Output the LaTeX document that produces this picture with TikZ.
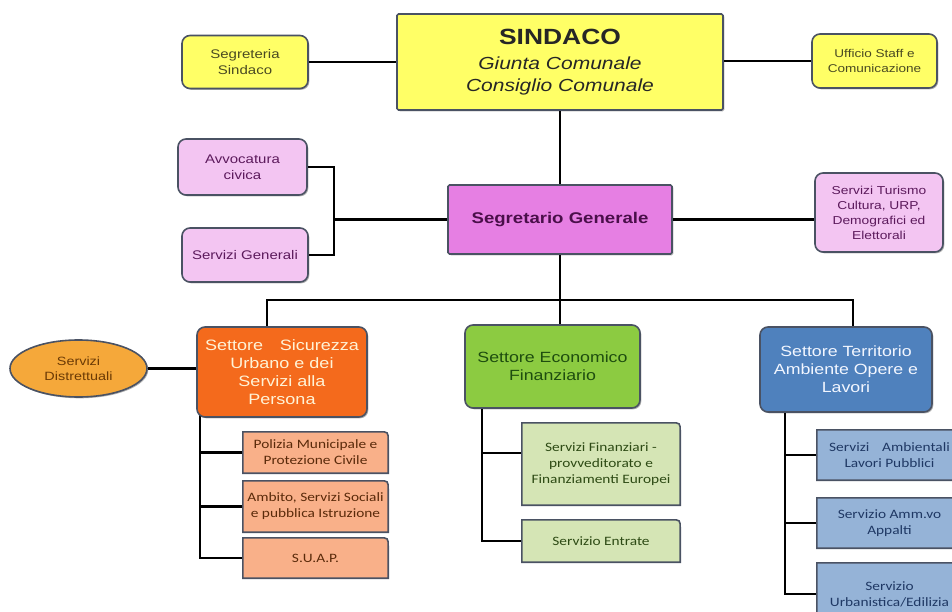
\documentclass[tikz,border=0pt]{standalone}
\usepackage{fontspec}
\setmainfont{Liberation Sans}
\newfontfamily\hvx[FakeStretch=1.2]{Liberation Sans}
\newfontfamily\cbx[FakeStretch=1.2]{Carlito}
\usetikzlibrary{backgrounds,shadows,shapes.geometric}

\definecolor{bordc}{HTML}{4A5263}
\definecolor{yel}{HTML}{FFFF66}
\definecolor{yeltxt}{HTML}{4A4A22}
\definecolor{pinkc}{HTML}{F3C5F2}
\definecolor{pinktxt}{HTML}{5C1A5C}
\definecolor{segc}{HTML}{E67FE3}
\definecolor{segtxt}{HTML}{4A0F4A}
\definecolor{orc}{HTML}{F46A1C}
\definecolor{ortxt}{HTML}{FFF3D6}
\definecolor{ellc}{HTML}{F5A83A}
\definecolor{elltxt}{HTML}{6B3A05}
\definecolor{grc}{HTML}{8CCB41}
\definecolor{grtxt}{HTML}{1E4D0F}
\definecolor{blc}{HTML}{4F81BD}
\definecolor{bltxt}{HTML}{F2F6FF}
\definecolor{osub}{HTML}{F9B089}
\definecolor{osubtxt}{HTML}{5A2A0A}
\definecolor{gsub}{HTML}{D5E5B5}
\definecolor{gsubtxt}{HTML}{2D4A14}
\definecolor{bsub}{HTML}{95B3D7}
\definecolor{bsubtxt}{HTML}{1F3864}

% sub-office box: square corners except a rounded top-right one
\newcommand\drawtab[2]{%
  \draw[tabline,fill=#2] (#1.south west) -- (#1.north west)
    -- ([xshift=-9pt]#1.north east) .. controls (#1.north east) .. ([yshift=-9pt]#1.north east)
    -- (#1.south east) -- cycle;}

\begin{document}
\begin{tikzpicture}[x=1pt,y=-1pt,
  box/.style={draw=bordc,line width=1.6pt,align=center,inner sep=0pt,
    drop shadow={shadow xshift=1.3pt,shadow yshift=-1.3pt,opacity=.3,fill=black}},
  rbox/.style={box,rounded corners=8pt},
  sqbox/.style={box,rounded corners=1.5pt},
  small/.style={font=\hvx\fontsize{12.5}{16}\selectfont},
  sector/.style={rbox,font=\hvx\fontsize{14.8}{18}\selectfont},
  subn/.style={align=center,inner sep=0pt,font=\cbx\fontsize{12.8}{16}\selectfont},
  tabline/.style={draw=bordc,line width=1.6pt},
  conn/.style={line width=2.2pt,black}]
\useasboundingbox (0,0) rectangle (952,612);

% top level
\node[sqbox,fill=yel,minimum width=326pt,minimum height=96pt,
  font=\hvx\fontsize{17.5}{21.5}\selectfont\itshape,text=black!85] (sindaco) at (560,62)
  {{\fontsize{22}{22}\selectfont\bfseries\upshape SINDACO}\\[4pt]Giunta Comunale\\Consiglio Comunale};
\node[rbox,small,fill=yel,text=yeltxt,minimum width=126pt,minimum height=53pt] (segsind) at (245,62) {Segreteria\\Sindaco};
\node[rbox,fill=yel,text=yeltxt,minimum width=125pt,minimum height=54pt,
  font=\hvx\fontsize{11.3}{14.5}\selectfont] (ufficio) at (874.5,61) {Ufficio Staff e\\Comunicazione};

% secretary general and staff
\node[sqbox,fill=segc,text=segtxt,minimum width=224pt,minimum height=69pt,
  font=\hvx\bfseries\fontsize{15.5}{18}\selectfont] (segr) at (560,219.5) {Segretario Generale};
\node[rbox,small,fill=pinkc,text=pinktxt,minimum width=129pt,minimum height=56pt] (avv) at (242.5,167) {Avvocatura\\civica};
\node[rbox,small,fill=pinkc,text=pinktxt,minimum width=126pt,minimum height=54pt] (sgen) at (245,255) {Servizi Generali};
\node[rbox,fill=pinkc,text=pinktxt,minimum width=128pt,minimum height=79pt,
  font=\hvx\fontsize{11.5}{15}\selectfont] (turismo) at (879,212.5)
  {Servizi Turismo\\Cultura, URP,\\Demografici ed\\Elettorali};

% sectors
\node[sector,fill=orc,text=ortxt,minimum width=170pt,minimum height=90pt,
  font=\hvx\fontsize{15}{18}\selectfont] (osec) at (282,372)
  {\makebox[154pt][s]{Settore Sicurezza}\\Urbano e dei\\Servizi alla\\Persona};
\node[sector,fill=grc,text=grtxt,minimum width=175pt,minimum height=83pt] (gsec) at (552.5,366.5)
  {Settore Economico\\Finanziario};
\node[sector,fill=blc,text=bltxt,minimum width=172pt,minimum height=85pt] (bsec) at (846,369.5)
  {Settore Territorio\\Ambiente Opere e\\Lavori};
\node[ellipse,box,fill=ellc,text=elltxt,minimum width=137pt,minimum height=57pt,
  font=\hvx\fontsize{12}{15}\selectfont] (distr) at (78.5,368.5) {Servizi\\Distrettuali};

% offices under each sector
\node[subn,text=osubtxt,minimum width=145pt,minimum height=41pt] (o1) at (315.5,452.5) {Polizia Municipale e\\Protezione Civile};
\node[subn,text=osubtxt,minimum width=145pt,minimum height=51pt] (o2) at (315.5,506.5) {Ambito, Servizi Sociali\\e pubblica Istruzione};
\node[subn,text=osubtxt,minimum width=145pt,minimum height=40pt] (o3) at (315.5,558) {S.U.A.P.};
\node[subn,text=gsubtxt,minimum width=158pt,minimum height=82pt] (g1) at (601,464) {Servizi Finanziari -\\provveditorato e\\Finanziamenti Europei};
\node[subn,text=gsubtxt,minimum width=158pt,minimum height=42pt] (g2) at (601,541) {Servizio Entrate};
\node[subn,text=bsubtxt,minimum width=145pt,minimum height=50pt] (b1) at (889.5,455) {Servizi\quad Ambientali\\Lavori Pubblici};
\node[subn,text=bsubtxt,minimum width=145pt,minimum height=50pt] (b2) at (889.5,523) {Servizio Amm.vo\\Appalti};
\node[subn,text=bsubtxt,minimum width=145pt,minimum height=62pt] (b3) at (889.5,594) {Servizio\\Urbanistica/Edilizia};

% branch points
\coordinate (pj) at (334,219.5);
\coordinate (busm) at (560,300);
\coordinate (busl) at (267,300);
\coordinate (busr) at (853,300);
\coordinate (ob) at (200,0);
\coordinate (gb) at (482,0);
\coordinate (gs1) at (482,453);
\coordinate (bb) at (785,0);

\begin{scope}[on background layer]
  \fill[white] (0,0) rectangle (952,612);
  % connectors
  \draw[conn] (segsind.east) -- (segsind.east -| sindaco.west);
  \draw[conn] (sindaco.east |- ufficio.west) -- (ufficio.west);
  \draw[conn] (sindaco.south) -- (segr.north);
  \draw[conn] (avv.east) -| (pj) |- (sgen.east);
  \draw[conn] (pj) -- (segr.west);
  \draw[conn] (segr.east) -- (segr.east -| turismo.west);
  \draw[conn] (segr.south) -- (busm);
  \draw[conn] (osec.center -| busl) -- (busl) -- (busr) -- (bsec.center -| busr);
  \draw[conn] (busm) -- (gsec.center -| busm);
  \draw[conn] (distr.east) -- (distr.east -| osec.west);
  \draw[conn] (osec.center -| ob) -- (ob |- o3.west) -- (o3.west);
  \draw[conn] (ob |- o1.west) -- (o1.west);
  \draw[conn] (ob |- o2.west) -- (o2.west);
  \draw[conn] (gsec.center -| gb) -- (gb |- g2.west) -- (g2.west);
  \draw[conn] (gs1) -- (gs1 -| g1.west);
  \draw[conn] (bsec.center -| bb) -- (bb |- b3.west) -- (b3.west);
  \draw[conn] (bb |- b1.west) -- (b1.west);
  \draw[conn] (bb |- b2.west) -- (b2.west);
  % office boxes
  \drawtab{o1}{osub}\drawtab{o2}{osub}\drawtab{o3}{osub}
  \drawtab{g1}{gsub}\drawtab{g2}{gsub}
  \drawtab{b1}{bsub}\drawtab{b2}{bsub}\drawtab{b3}{bsub}
\end{scope}
\end{tikzpicture}
\end{document}
